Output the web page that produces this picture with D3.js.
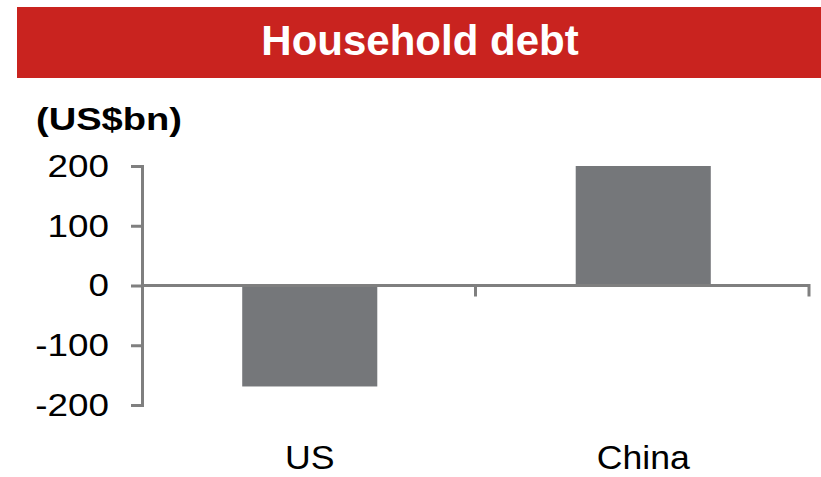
<!DOCTYPE html>
<html>
<head>
<meta charset="utf-8">
<script src="https://cdn.jsdelivr.net/npm/d3@7"></script>
<style>
  html, body { margin: 0; padding: 0; background: #fff; }
  svg { display: block; }
  text { font-family: "Liberation Sans", Arial, Helvetica, sans-serif; }
</style>
</head>
<body>
<svg id="chart" width="821" height="477"></svg>
<script>
// Household debt change by country (US$bn)
const categories = ["US", "China"];
const values = [-169, 200];
const yTicks = [-200, -100, 0, 100, 200];
const titleText = "Household debt";
const unitText = "(US$bn)";

const svg = d3.select("#chart");
const W = 821, H = 477;

const red = "#C9231F";
const axisGrey = "#7F7F7F";
const barGrey = "#75777A";

// Widen glyphs horizontally by a factor while keeping them as text
function stretch(sel, factor) {
  sel.each(function () {
    const len = this.getComputedTextLength();
    d3.select(this)
      .attr("textLength", len * factor)
      .attr("lengthAdjust", "spacingAndGlyphs");
  });
}

// Title banner
svg.append("rect")
  .attr("x", 17).attr("y", 7)
  .attr("width", W - 17).attr("height", 71)
  .attr("fill", red);

svg.append("text")
  .attr("x", 420).attr("y", 55)
  .attr("text-anchor", "middle")
  .attr("font-size", 42)
  .attr("font-weight", "bold")
  .attr("fill", "#fff")
  .text(titleText);

// Unit label
svg.append("text")
  .attr("x", 36).attr("y", 130)
  .attr("font-size", 32)
  .attr("font-weight", "bold")
  .attr("fill", "#000")
  .text(unitText)
  .call(stretch, 1.19);

// Scales
const x = d3.scaleBand()
  .domain(categories)
  .range([142, 809])
  .paddingInner(0)
  .paddingOuter(0);

const y = d3.scaleLinear()
  .domain([-200, 200])
  .range([405, 166]);

const barFrac = 0.405;
const barW = x.bandwidth() * barFrac;

// Bars
svg.append("g")
  .selectAll("rect")
  .data(categories.map((c, i) => ({ c, v: values[i] })))
  .join("rect")
  .attr("x", d => x(d.c) + (x.bandwidth() - barW) / 2 + 1)
  .attr("width", barW)
  .attr("y", d => y(Math.max(0, d.v)))
  .attr("height", d => Math.abs(y(d.v) - y(0)))
  .attr("fill", barGrey);

// Y axis
const yAxis = svg.append("g")
  .attr("transform", "translate(142,0)")
  .call(d3.axisLeft(y).tickValues(yTicks).tickSize(11).tickPadding(22).tickFormat(d => String(d)));

yAxis.selectAll("path, line")
  .attr("stroke", axisGrey)
  .attr("stroke-width", 3);
yAxis.selectAll("text")
  .attr("font-size", 32)
  .attr("fill", "#000")
  .attr("font-family", "'Liberation Sans', Arial, sans-serif")
  .call(stretch, 1.15);

// X axis at zero with tick marks at category boundaries
const xAxis = svg.append("g");
xAxis.append("line")
  .attr("x1", x.range()[0]).attr("x2", x.range()[1])
  .attr("y1", y(0)).attr("y2", y(0))
  .attr("stroke", axisGrey)
  .attr("stroke-width", 3);

xAxis.selectAll("line.tick")
  .data(categories)
  .join("line")
  .attr("class", "tick")
  .attr("x1", d => x(d) + x.bandwidth())
  .attr("x2", d => x(d) + x.bandwidth())
  .attr("y1", y(0) - 1.5)
  .attr("y2", y(0) + 11)
  .attr("stroke", axisGrey)
  .attr("stroke-width", 3);

// Category labels
svg.append("g")
  .selectAll("text")
  .data(categories)
  .join("text")
  .attr("x", d => x(d) + x.bandwidth() / 2 + 1)
  .attr("y", 469)
  .attr("text-anchor", "middle")
  .attr("font-size", 33)
  .attr("fill", "#000")
  .text(d => d)
  .call(stretch, 1.08);
</script>
</body>
</html>
